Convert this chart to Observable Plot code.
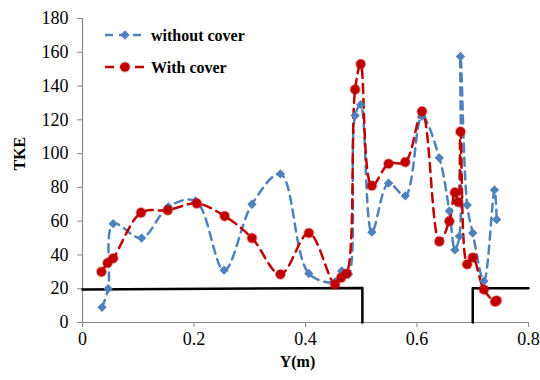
<!DOCTYPE html>
<html>
<head>
<meta charset="utf-8">
<script src="https://cdn.jsdelivr.net/npm/d3@7"></script>
<script src="https://cdn.jsdelivr.net/npm/@observablehq/plot@0.6"></script>
<style>
  body { margin: 0; background: #fff; }
  #chart svg { display: block; }
</style>
</head>
<body>
<div id="chart"></div>
<script>
// ---- data ----
const posWithout = [0.035, 0.046, 0.055, 0.106, 0.154, 0.203, 0.254, 0.304, 0.355, 0.406, 0.453, 0.465, 0.477, 0.489, 0.499, 0.519, 0.549, 0.579, 0.609, 0.640, 0.658, 0.668, 0.676, 0.678, 0.690, 0.700, 0.720, 0.739, 0.743];
const tkeWithout = [9, 20, 58.5, 50, 68.5, 72, 31, 70, 88, 29, 24, 30.5, 28.5, 122.5, 129, 53.5, 82.5, 75, 122, 97.5, 66, 43, 51, 157.5, 69.5, 53, 24.5, 78.5, 61];

const posWith = [0.034, 0.045, 0.055, 0.105, 0.153, 0.205, 0.255, 0.304, 0.355, 0.406, 0.453, 0.464, 0.474, 0.489, 0.499, 0.519, 0.549, 0.579, 0.609, 0.640, 0.658, 0.668, 0.674, 0.678, 0.690, 0.700, 0.720, 0.740, 0.743];
const tkeWith = [30, 35.3, 38, 65, 66.5, 70.5, 63, 50, 28.5, 53, 22.5, 26.5, 29, 138, 153, 81, 94, 95, 125, 48, 60, 77, 71.3, 113, 34.5, 38.5, 19.5, 12.3, 13];

// cover outline (black step lines)
const coverLeftPos = [0, 0.502, 0.502];
const coverLeftTke = [19.5, 20.5, 0];
const coverRightPos = [0.700, 0.700, 0.8];
const coverRightTke = [0, 20.3, 20.3];

const xTicks = [0, 0.2, 0.4, 0.6, 0.8];
const yTicks = [0, 20, 40, 60, 80, 100, 120, 140, 160, 180];

const seriesNames = ["without cover", "With cover"];
const BLUE = "#4F81BD", RED = "#C00000";

const without = posWithout.map((p, i) => ({pos: p, tke: tkeWithout[i]}));
const withC = posWith.map((p, i) => ({pos: p, tke: tkeWith[i]}));
const coverL = coverLeftPos.map((p, i) => ({pos: p, tke: coverLeftTke[i]}));
const coverR = coverRightPos.map((p, i) => ({pos: p, tke: coverRightTke[i]}));

function legend() {
  const g = d3.create("svg:g")
    .attr("font-family", "'Liberation Serif', 'Times New Roman', serif")
    .attr("font-weight", "bold")
    .attr("font-size", 16)
    .attr("text-anchor", "start");
  const items = [
    {name: seriesNames[0], color: BLUE, dash: "8,6", sym: "diamond"},
    {name: seriesNames[1], color: RED, dash: "9,6", sym: "circle"}
  ];
  items.forEach((it, i) => {
    const y = 35 + i * 32;
    g.append("line").attr("x1", 105).attr("x2", 145).attr("y1", y).attr("y2", y)
      .attr("stroke", it.color).attr("stroke-width", 2.5).attr("stroke-dasharray", it.dash);
    if (it.sym === "diamond") {
      g.append("path").attr("d", d3.symbol(d3.symbolDiamond2, 55)())
        .attr("transform", `translate(125,${y})`).attr("fill", it.color);
    } else {
      g.append("circle").attr("cx", 125).attr("cy", y).attr("r", 4.6)
        .attr("fill", it.color).attr("stroke", it.color).attr("stroke-opacity", 0.35).attr("stroke-width", 2);
    }
    g.append("text").attr("x", 151).attr("y", y).attr("dy", "0.35em")
      .attr("fill", "#000").attr("text-anchor", "start").text(it.name);
  });
  return g.node();
}

const chart = Plot.plot({
  width: 540,
  height: 380,
  marginLeft: 82,
  marginRight: 12,
  marginTop: 18,
  marginBottom: 58,
  style: {fontFamily: "'Liberation Serif', 'Times New Roman', serif", fontSize: "18px", color: "#000", background: "#fff"},
  x: {domain: [0, 0.8]},
  y: {domain: [0, 180]},
  marks: [
    Plot.ruleY([0], {stroke: "#888", strokeWidth: 1.2}),
    Plot.ruleX([0], {stroke: "#888", strokeWidth: 1.2}),
    Plot.axisX({ticks: xTicks, tickFormat: d3.format("~g"), tickSize: 5, tickPadding: 5, label: null, stroke: "#888", fill: "#000"}),
    Plot.axisY({ticks: yTicks, tickSize: 5, tickPadding: 9, label: null, stroke: "#888", fill: "#000"}),
    Plot.line(coverL, {x: "pos", y: "tke", stroke: "#000", strokeWidth: 2.5}),
    Plot.line(coverR, {x: "pos", y: "tke", stroke: "#000", strokeWidth: 2.5}),
    Plot.line(without, {x: "pos", y: "tke", stroke: BLUE, strokeWidth: 2.5, strokeDasharray: "8,6", curve: "catmull-rom"}),
    Plot.line(withC, {x: "pos", y: "tke", stroke: RED, strokeWidth: 2.5, strokeDasharray: "9,6", curve: "catmull-rom"}),
    Plot.dot(without, {x: "pos", y: "tke", symbol: "diamond2", r: 4.2, fill: BLUE}),
    Plot.dot(withC, {x: "pos", y: "tke", r: 4.6, fill: RED, stroke: RED, strokeOpacity: 0.35, strokeWidth: 2}),
    Plot.text(["TKE"], {frameAnchor: "left", dx: -63, rotate: -90, fontWeight: "bold", fontSize: 16, fill: "#000"}),
    Plot.text(["Y(m)"], {frameAnchor: "bottom", dx: -8, dy: 44, fontWeight: "bold", fontSize: 16, fill: "#000"}),
    legend
  ]
});
document.getElementById("chart").appendChild(chart);
</script>
</body>
</html>
